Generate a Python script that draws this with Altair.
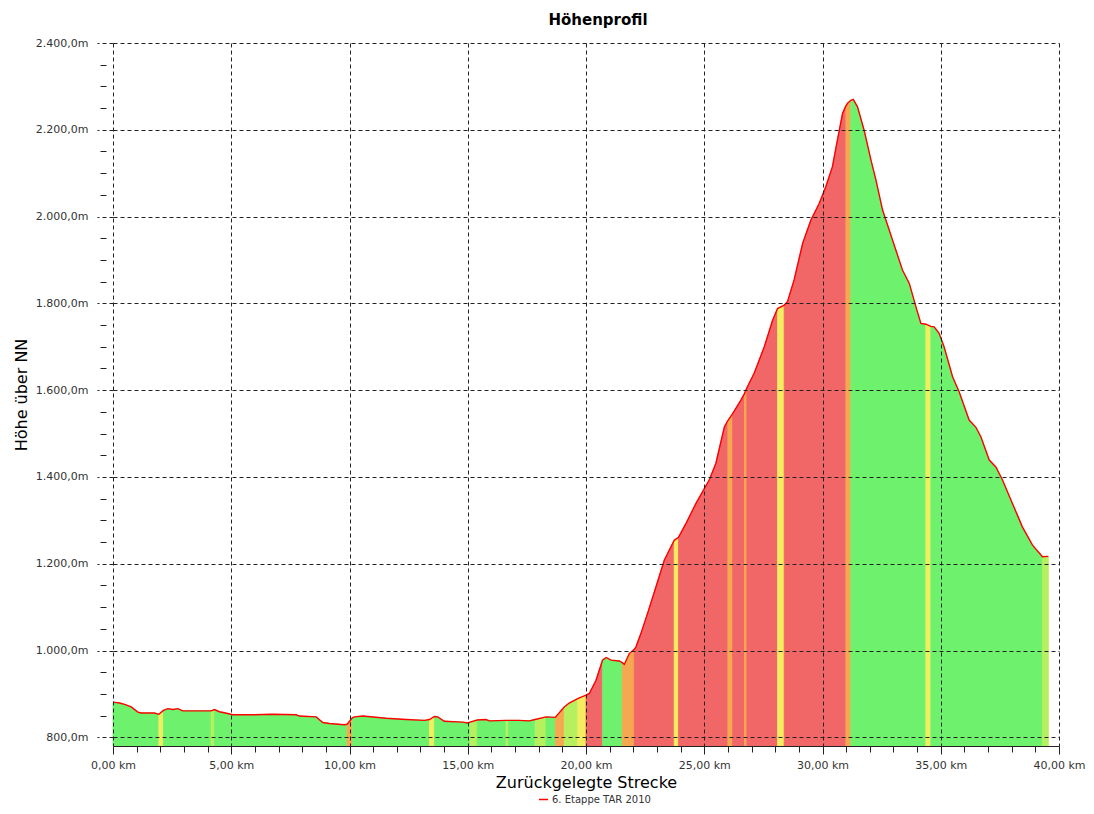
import altair as alt
import pandas as pd

# --- profile: distance (km), elevation (m) ---
km = [0.00, 0.28, 0.49, 0.77, 1.05, 1.19, 1.75, 1.94, 2.13, 2.32, 2.53, 2.74, 2.95,
      4.15, 4.29, 4.50, 4.85, 5.06, 5.91, 6.75, 7.74, 7.88, 8.59, 8.87, 9.15, 9.78,
      9.90, 10.12, 10.21, 10.56, 11.55, 12.39, 13.17, 13.38, 13.59, 13.73, 14.01,
      14.78, 15.00, 15.10, 15.40, 15.77, 15.91, 16.62, 16.72, 17.18, 17.60, 17.85,
      18.31, 18.70, 19.08, 19.29, 19.65, 20.00, 20.14, 20.42, 20.63, 20.70, 20.85,
      21.06, 21.41, 21.53, 21.62, 21.83, 22.04, 22.11, 22.32, 22.60, 22.96, 23.31,
      23.73, 23.91, 24.23, 24.65, 25.21, 25.49, 25.85, 26.00, 26.20, 26.55, 26.70,
      26.80, 27.11, 27.54, 27.89, 28.10, 28.38, 28.52, 28.80, 29.16, 29.51, 29.86,
      30.14, 30.42, 30.63, 30.85, 30.99, 31.06, 31.20, 31.30, 31.48, 31.76, 32.05,
      32.26, 32.54, 32.96, 33.38, 33.67, 33.95, 34.16, 34.37, 34.58, 34.72, 34.93,
      35.14, 35.50, 35.78, 36.20, 36.48, 36.70, 37.05, 37.33, 37.61, 38.03, 38.45,
      38.88, 39.30, 39.55]
elev = [881, 879, 876, 870, 858, 856, 856, 853, 862, 866, 864, 866, 861,
        861, 864, 859, 855, 852, 852, 853, 852, 849, 847, 834, 832, 829,
        830, 845, 847, 849, 844, 841, 839, 841, 848, 847, 837,
        835, 833, 835, 840, 841, 838, 839, 839, 839, 838, 841,
        847, 846, 870, 879, 889, 897, 901, 931, 966, 978, 984,
        978, 976, 972, 968, 993, 1003, 1008, 1039, 1085, 1147, 1208,
        1254, 1261, 1293, 1339, 1393, 1431, 1515, 1530, 1546, 1577, 1592,
        1605, 1639, 1700, 1761, 1788, 1796, 1804, 1854, 1938, 1992, 2030,
        2069, 2115, 2176, 2238, 2255, 2261, 2268, 2270, 2253, 2199, 2130,
        2084, 2015, 1946, 1877, 1846, 1792, 1754, 1752, 1747, 1746, 1731,
        1700, 1631, 1596, 1531, 1515, 1492, 1439, 1423, 1393, 1339, 1285,
        1243, 1216, 1217]
# gradient class of the stretch starting at each point (G green, L yellow-green,
# Y yellow, O orange, R red)
grade = ["G", "G", "G", "G", "G", "G", "G", "Y", "G", "G", "G", "G", "G",
         "L", "G", "G", "G", "G", "G", "G", "G", "G", "G", "G", "G", "G",
         "O", "G", "G", "G", "G", "G", "G", "Y", "G", "G", "G",
         "G", "G", "L", "G", "G", "G", "L", "G", "G", "G", "L",
         "G", "O", "L", "L", "Y", "R", "R", "R", "R", "G", "G",
         "G", "G", "O", "O", "O", "R", "R", "R", "R", "R", "R",
         "Y", "R", "R", "R", "R", "R", "R", "O", "R", "R", "O",
         "R", "R", "R", "R", "Y", "R", "R", "R", "R", "R", "R",
         "R", "R", "R", "R", "O", "O", "G", "G", "G", "G", "G",
         "G", "G", "G", "G", "G", "G", "G", "Y", "G", "G", "G",
         "G", "G", "G", "G", "G", "G", "G", "G", "G", "G", "G",
         "G", "L", "L"]

grade_domain = ["G", "L", "Y", "O", "R"]
grade_colors = ["#6ef26e", "#b6f05e", "#f2ee60", "#f5a850", "#f16666"]
series_name = "6. Etappe TAR 2010"

y_ticks = list(range(800, 2401, 50))
x_ticks = list(range(0, 41, 1))

# one area per run of equally coloured stretches
rows = []
band = 0
for i in range(len(km) - 1):
    if i > 0 and grade[i] != grade[i - 1]:
        band += 1
    rows.append({"band": "b%03d" % band, "km": km[i], "m": elev[i], "grade": grade[i]})
    rows.append({"band": "b%03d" % band, "km": km[i + 1], "m": elev[i + 1], "grade": grade[i]})
seg_df = pd.DataFrame(rows).drop_duplicates(subset=["band", "km"]).reset_index(drop=True)
seg_df["base"] = 780
line_df = pd.DataFrame({"km": km, "m": elev, "series": series_name})

FONT = "DejaVu Sans"

y_label = ("datum.value % 200 == 0 ? "
           "replace(replace(replace(format(datum.value, ',.1f'), ',', '#'), '.', ','), '#', '.') + 'm' : ''")
x_label = ("datum.value % 5 == 0 ? replace(format(datum.value, '.2f'), '.', ',') + ' km' : ''")

x_scale = alt.Scale(domain=[0, 40], nice=False)
y_scale = alt.Scale(domain=[780, 2400], nice=False, zero=False)

x_axis = alt.Axis(
    values=x_ticks, labelExpr=x_label, title="Zurückgelegte Strecke",
    grid=True,
    gridOpacity={"condition": {"test": "datum.value % 5 == 0", "value": 1}, "value": 0},
    gridDash=[4, 3], gridColor="#222222", gridWidth=1,
    tickSize={"condition": {"test": "datum.value % 5 == 0", "value": 8}, "value": 6},
    tickColor="#222222", domainColor="#222222", domainWidth=1,
    labelFlush=False, labelOverlap=False, labelPadding=5, labelBound=False,
    labelFont=FONT, labelFontSize=11, labelColor="#333333",
    titleFont=FONT, titleFontSize=16, titleFontWeight="normal", titleColor="#000000",
    titlePadding=4, zindex=1,
)
y_axis = alt.Axis(
    values=y_ticks, labelExpr=y_label, title="Höhe über NN",
    grid=True,
    gridOpacity={"condition": {"test": "datum.value % 200 == 0", "value": 1}, "value": 0},
    gridDash=[4, 3], gridColor="#222222", gridWidth=1,
    tickSize={"condition": {"test": "datum.value % 200 == 0", "value": 16}, "value": 13},
    tickDash={"condition": {"test": "datum.value % 200 == 0", "value": [4, 3]}, "value": [0, 7, 6, 60]},
    tickColor="#222222", domain=False,
    labelOverlap=False, labelPadding=9, labelFlush=False,
    labelFont=FONT, labelFontSize=11, labelColor="#333333",
    titleFont=FONT, titleFontSize=16, titleFontWeight="normal", titleColor="#000000",
    titlePadding=6, zindex=1,
)

x_enc = alt.X("km:Q", scale=x_scale, axis=x_axis)
y_enc = alt.Y("m:Q", scale=y_scale, axis=y_axis, stack=None)

grade_scale = alt.Scale(domain=grade_domain, range=grade_colors)

areas = alt.Chart(seg_df).mark_area(
    interpolate="linear", orient="vertical", opacity=1, strokeWidth=0.8
).encode(
    x=x_enc,
    y=y_enc,
    y2=alt.Y2("base:Q"),
    fill=alt.Fill("grade:N", scale=grade_scale, legend=None),
    stroke=alt.Stroke("grade:N", scale=grade_scale, legend=None),
    detail="band:N",
)

line = alt.Chart(line_df).mark_line(strokeWidth=1.4).encode(
    x=x_enc,
    y=y_enc,
    stroke=alt.Stroke(
        "series:N",
        scale=alt.Scale(domain=[series_name], range=["#ff0000"]),
        legend=alt.Legend(
            title=None, orient="none", legendX=425, legendY=751,
            symbolType="stroke", symbolStrokeWidth=1.5, symbolSize=80,
            labelFont=FONT, labelFontSize=10, labelColor="#333333",
            padding=0, symbolOffset=0, labelOffset=3,
        ),
    ),
)

chart = alt.layer(areas, line).resolve_scale(fill="independent", stroke="independent").properties(
    width=946, height=703,
    autosize=alt.AutoSizeParams(type="none"),
    padding={"left": 105, "top": 35, "right": 27, "bottom": 60},
    title=alt.Title("Höhenprofil", font=FONT, fontSize=15, fontWeight="bold",
                    color="#000000", anchor="middle", offset=9, dx=12),
    background="white",
).configure_view(stroke=None)

chart.save("out.html", embed_options={"renderer": "svg", "actions": False})
